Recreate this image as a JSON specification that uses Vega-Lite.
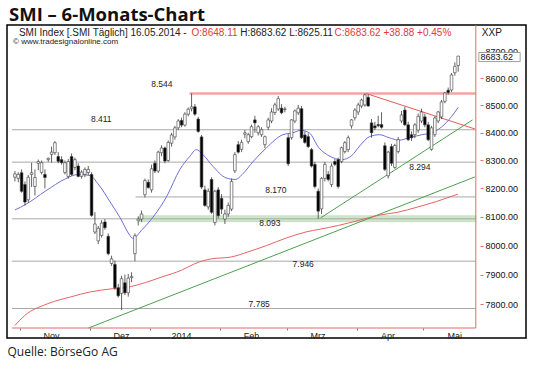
{
"$schema": "https://vega.github.io/schema/vega-lite/v6.json",
"width": 519, "height": 313,
"autosize": "none",
"padding": {"left": 7, "top": 25, "right": 14, "bottom": 32},
"background": "white",
"title": {"text": "SMI – 6-Monats-Chart", "anchor": "start", "frame": "group", "font": "Open Sans", "fontSize": 18.5, "fontWeight": "bold", "color": "#111111", "baseline": "alphabetic", "offset": 4, "dx": 2, "dy": 19},
"config": {"view": {"stroke": "#000000", "strokeWidth": 1.5}, "text": {"font": "Liberation Sans"}},
"datasets": {
"candles": [
{"d":"2013-10-30","t":0,"o":8240,"h":8262,"l":8225,"c":8252},
{"d":"2013-10-31","t":1,"o":8236,"h":8258,"l":8222,"c":8250},
{"d":"2013-11-01","t":2,"o":8256,"h":8268,"l":8185,"c":8190},
{"d":"2013-11-04","t":3,"o":8214,"h":8225,"l":8140,"c":8152},
{"d":"2013-11-05","t":4,"o":8160,"h":8248,"l":8150,"c":8240},
{"d":"2013-11-06","t":5,"o":8250,"h":8292,"l":8205,"c":8256},
{"d":"2013-11-07","t":6,"o":8207,"h":8268,"l":8175,"c":8239},
{"d":"2013-11-08","t":7,"o":8290,"h":8303,"l":8265,"c":8296},
{"d":"2013-11-11","t":8,"o":8257,"h":8300,"l":8250,"c":8292},
{"d":"2013-11-12","t":9,"o":8250,"h":8268,"l":8200,"c":8239},
{"d":"2013-11-13","t":10,"o":8303,"h":8310,"l":8295,"c":8308},
{"d":"2013-11-14","t":11,"o":8322,"h":8350,"l":8292,"c":8330},
{"d":"2013-11-15","t":12,"o":8328,"h":8370,"l":8320,"c":8364},
{"d":"2013-11-18","t":13,"o":8314,"h":8330,"l":8290,"c":8297},
{"d":"2013-11-19","t":14,"o":8303,"h":8315,"l":8285,"c":8292},
{"d":"2013-11-20","t":15,"o":8257,"h":8300,"l":8250,"c":8292},
{"d":"2013-11-21","t":16,"o":8243,"h":8305,"l":8235,"c":8296},
{"d":"2013-11-22","t":17,"o":8314,"h":8325,"l":8245,"c":8250},
{"d":"2013-11-25","t":18,"o":8275,"h":8310,"l":8265,"c":8303},
{"d":"2013-11-26","t":19,"o":8280,"h":8290,"l":8240,"c":8243},
{"d":"2013-11-27","t":20,"o":8243,"h":8265,"l":8235,"c":8258},
{"d":"2013-11-28","t":21,"o":8250,"h":8275,"l":8240,"c":8268},
{"d":"2013-11-29","t":22,"o":8257,"h":8280,"l":8248,"c":8268},
{"d":"2013-12-02","t":23,"o":8250,"h":8258,"l":8100,"c":8105},
{"d":"2013-12-03","t":24,"o":8047,"h":8116,"l":8040,"c":8075},
{"d":"2013-12-04","t":25,"o":8016,"h":8068,"l":8005,"c":8060},
{"d":"2013-12-05","t":26,"o":8035,"h":8088,"l":8028,"c":8078},
{"d":"2013-12-06","t":27,"o":8082,"h":8092,"l":8055,"c":8062},
{"d":"2013-12-09","t":28,"o":8032,"h":8042,"l":7966,"c":7972},
{"d":"2013-12-10","t":29,"o":7938,"h":7965,"l":7930,"c":7954},
{"d":"2013-12-11","t":30,"o":7935,"h":7948,"l":7848,"c":7855},
{"d":"2013-12-12","t":31,"o":7855,"h":7868,"l":7822,"c":7828},
{"d":"2013-12-13","t":32,"o":7836,"h":7896,"l":7780,"c":7886},
{"d":"2013-12-16","t":33,"o":7872,"h":7900,"l":7830,"c":7838},
{"d":"2013-12-17","t":34,"o":7838,"h":7902,"l":7825,"c":7888},
{"d":"2013-12-18","t":35,"o":7890,"h":7908,"l":7874,"c":7894},
{"d":"2013-12-19","t":36,"o":7972,"h":8042,"l":7946,"c":8034},
{"d":"2013-12-20","t":37,"o":8086,"h":8102,"l":8070,"c":8092},
{"d":"2013-12-23","t":38,"o":8092,"h":8122,"l":8082,"c":8110},
{"d":"2013-12-27","t":39,"o":8178,"h":8235,"l":8168,"c":8228},
{"d":"2013-12-30","t":40,"o":8222,"h":8232,"l":8200,"c":8203},
{"d":"2014-01-03","t":41,"o":8195,"h":8285,"l":8185,"c":8270},
{"d":"2014-01-06","t":42,"o":8290,"h":8300,"l":8255,"c":8262},
{"d":"2014-01-07","t":43,"o":8262,"h":8335,"l":8255,"c":8330},
{"d":"2014-01-08","t":44,"o":8328,"h":8355,"l":8315,"c":8345},
{"d":"2014-01-09","t":45,"o":8345,"h":8350,"l":8290,"c":8298},
{"d":"2014-01-10","t":46,"o":8300,"h":8372,"l":8295,"c":8365},
{"d":"2014-01-13","t":47,"o":8362,"h":8400,"l":8350,"c":8392},
{"d":"2014-01-14","t":48,"o":8385,"h":8425,"l":8375,"c":8418},
{"d":"2014-01-15","t":49,"o":8418,"h":8450,"l":8410,"c":8443},
{"d":"2014-01-16","t":50,"o":8445,"h":8455,"l":8420,"c":8428},
{"d":"2014-01-17","t":51,"o":8428,"h":8475,"l":8422,"c":8468},
{"d":"2014-01-20","t":52,"o":8468,"h":8492,"l":8460,"c":8486},
{"d":"2014-01-21","t":53,"o":8488,"h":8544,"l":8478,"c":8495},
{"d":"2014-01-22","t":54,"o":8495,"h":8505,"l":8462,"c":8468},
{"d":"2014-01-23","t":55,"o":8450,"h":8458,"l":8400,"c":8405},
{"d":"2014-01-24","t":56,"o":8385,"h":8392,"l":8198,"c":8205},
{"d":"2014-01-27","t":57,"o":8195,"h":8210,"l":8135,"c":8140},
{"d":"2014-01-28","t":58,"o":8135,"h":8200,"l":8125,"c":8190},
{"d":"2014-01-29","t":59,"o":8232,"h":8240,"l":8110,"c":8116},
{"d":"2014-01-30","t":60,"o":8080,"h":8195,"l":8070,"c":8190},
{"d":"2014-01-31","t":61,"o":8195,"h":8205,"l":8095,"c":8104},
{"d":"2014-02-03","t":62,"o":8165,"h":8180,"l":8110,"c":8127},
{"d":"2014-02-04","t":63,"o":8092,"h":8125,"l":8075,"c":8110},
{"d":"2014-02-05","t":64,"o":8110,"h":8150,"l":8100,"c":8140},
{"d":"2014-02-06","t":65,"o":8127,"h":8235,"l":8120,"c":8225},
{"d":"2014-02-07","t":66,"o":8263,"h":8330,"l":8255,"c":8321},
{"d":"2014-02-10","t":67,"o":8357,"h":8370,"l":8325,"c":8330},
{"d":"2014-02-11","t":68,"o":8340,"h":8375,"l":8330,"c":8365},
{"d":"2014-02-12","t":69,"o":8395,"h":8410,"l":8380,"c":8400},
{"d":"2014-02-13","t":70,"o":8368,"h":8400,"l":8360,"c":8393},
{"d":"2014-02-14","t":71,"o":8386,"h":8430,"l":8380,"c":8422},
{"d":"2014-02-17","t":72,"o":8447,"h":8462,"l":8400,"c":8436},
{"d":"2014-02-18","t":73,"o":8400,"h":8428,"l":8390,"c":8422},
{"d":"2014-02-19","t":74,"o":8393,"h":8420,"l":8385,"c":8411},
{"d":"2014-02-20","t":75,"o":8357,"h":8390,"l":8345,"c":8386},
{"d":"2014-02-21","t":76,"o":8420,"h":8455,"l":8410,"c":8447},
{"d":"2014-02-24","t":77,"o":8443,"h":8490,"l":8435,"c":8476},
{"d":"2014-02-25","t":78,"o":8474,"h":8510,"l":8465,"c":8502},
{"d":"2014-02-26","t":79,"o":8487,"h":8535,"l":8480,"c":8525},
{"d":"2014-02-27","t":80,"o":8490,"h":8505,"l":8468,"c":8473},
{"d":"2014-02-28","t":81,"o":8485,"h":8495,"l":8475,"c":8487},
{"d":"2014-03-03","t":82,"o":8382,"h":8395,"l":8280,"c":8288},
{"d":"2014-03-04","t":83,"o":8382,"h":8450,"l":8375,"c":8447},
{"d":"2014-03-05","t":84,"o":8443,"h":8485,"l":8435,"c":8480},
{"d":"2014-03-06","t":85,"o":8473,"h":8502,"l":8465,"c":8490},
{"d":"2014-03-07","t":86,"o":8488,"h":8498,"l":8378,"c":8382},
{"d":"2014-03-10","t":87,"o":8392,"h":8405,"l":8360,"c":8365},
{"d":"2014-03-11","t":88,"o":8386,"h":8398,"l":8345,"c":8350},
{"d":"2014-03-12","t":89,"o":8339,"h":8345,"l":8275,"c":8280},
{"d":"2014-03-13","t":90,"o":8286,"h":8295,"l":8200,"c":8207},
{"d":"2014-03-14","t":91,"o":8190,"h":8200,"l":8093,"c":8120},
{"d":"2014-03-17","t":92,"o":8128,"h":8240,"l":8110,"c":8236},
{"d":"2014-03-18","t":93,"o":8236,"h":8295,"l":8225,"c":8286},
{"d":"2014-03-19","t":94,"o":8250,"h":8262,"l":8225,"c":8232},
{"d":"2014-03-20","t":95,"o":8214,"h":8290,"l":8205,"c":8280},
{"d":"2014-03-21","t":96,"o":8296,"h":8305,"l":8280,"c":8286},
{"d":"2014-03-24","t":97,"o":8303,"h":8310,"l":8200,"c":8207},
{"d":"2014-03-25","t":98,"o":8296,"h":8350,"l":8290,"c":8346},
{"d":"2014-03-26","t":99,"o":8332,"h":8370,"l":8325,"c":8364},
{"d":"2014-03-27","t":100,"o":8339,"h":8390,"l":8330,"c":8382},
{"d":"2014-03-28","t":101,"o":8425,"h":8450,"l":8415,"c":8447},
{"d":"2014-03-31","t":102,"o":8455,"h":8490,"l":8445,"c":8483},
{"d":"2014-04-01","t":103,"o":8476,"h":8510,"l":8465,"c":8502},
{"d":"2014-04-02","t":104,"o":8498,"h":8525,"l":8490,"c":8520},
{"d":"2014-04-03","t":105,"o":8502,"h":8544,"l":8495,"c":8539},
{"d":"2014-04-04","t":106,"o":8530,"h":8540,"l":8495,"c":8498},
{"d":"2014-04-07","t":107,"o":8436,"h":8450,"l":8382,"c":8400},
{"d":"2014-04-08","t":108,"o":8425,"h":8440,"l":8410,"c":8418},
{"d":"2014-04-09","t":109,"o":8430,"h":8462,"l":8420,"c":8426},
{"d":"2014-04-10","t":110,"o":8430,"h":8475,"l":8415,"c":8420},
{"d":"2014-04-11","t":111,"o":8353,"h":8365,"l":8262,"c":8268},
{"d":"2014-04-14","t":112,"o":8245,"h":8335,"l":8236,"c":8330},
{"d":"2014-04-15","t":113,"o":8350,"h":8360,"l":8280,"c":8290},
{"d":"2014-04-16","t":114,"o":8275,"h":8360,"l":8270,"c":8354},
{"d":"2014-04-17","t":115,"o":8332,"h":8385,"l":8325,"c":8375},
{"d":"2014-04-22","t":116,"o":8443,"h":8480,"l":8435,"c":8465},
{"d":"2014-04-23","t":117,"o":8483,"h":8495,"l":8425,"c":8429},
{"d":"2014-04-24","t":118,"o":8429,"h":8440,"l":8370,"c":8375},
{"d":"2014-04-25","t":119,"o":8393,"h":8405,"l":8370,"c":8382},
{"d":"2014-04-28","t":120,"o":8393,"h":8435,"l":8380,"c":8429},
{"d":"2014-04-29","t":121,"o":8410,"h":8470,"l":8400,"c":8460},
{"d":"2014-04-30","t":122,"o":8443,"h":8488,"l":8435,"c":8476},
{"d":"2014-05-02","t":123,"o":8458,"h":8470,"l":8420,"c":8429},
{"d":"2014-05-05","t":124,"o":8429,"h":8440,"l":8370,"c":8375},
{"d":"2014-05-06","t":125,"o":8340,"h":8425,"l":8335,"c":8418},
{"d":"2014-05-07","t":126,"o":8393,"h":8460,"l":8385,"c":8454},
{"d":"2014-05-08","t":127,"o":8443,"h":8480,"l":8435,"c":8476},
{"d":"2014-05-09","t":128,"o":8458,"h":8520,"l":8450,"c":8513},
{"d":"2014-05-12","t":129,"o":8515,"h":8550,"l":8508,"c":8546},
{"d":"2014-05-13","t":130,"o":8556,"h":8566,"l":8540,"c":8548},
{"d":"2014-05-14","t":131,"o":8557,"h":8620,"l":8550,"c":8613},
{"d":"2014-05-15","t":132,"o":8621,"h":8660,"l":8610,"c":8645},
{"d":"2014-05-16","t":133,"o":8648.11,"h":8683.62,"l":8625.11,"c":8683.62}
],
"ma20": [
{"t":0,"v":8124},{"t":3.3,"v":8144},{"t":9.2,"v":8191},{"t":15.1,"v":8234},{"t":19,"v":8250},{"t":22.6,"v":8246},{"t":24.9,"v":8217},{"t":28.8,"v":8148},{"t":31.8,"v":8092},{"t":34.2,"v":8040},{"t":35.3,"v":8025},{"t":38.3,"v":8057},{"t":41.7,"v":8103},{"t":45.6,"v":8173},{"t":49.5,"v":8268},{"t":52.5,"v":8315},{"t":54.4,"v":8339},{"t":56.4,"v":8321},{"t":59.4,"v":8279},{"t":63.3,"v":8238},{"t":66.2,"v":8232},{"t":68.2,"v":8250},{"t":71.6,"v":8298},{"t":75.5,"v":8346},{"t":80.4,"v":8393},{"t":83.4,"v":8400},{"t":85.8,"v":8409},{"t":88.3,"v":8400},{"t":91.2,"v":8346},{"t":94.2,"v":8317},{"t":98.1,"v":8303},{"t":101,"v":8317},{"t":103.5,"v":8353},{"t":106.4,"v":8386},{"t":109.4,"v":8393},{"t":112.3,"v":8382},{"t":115.3,"v":8373},{"t":118.2,"v":8382},{"t":122.1,"v":8393},{"t":125.1,"v":8400},{"t":128,"v":8421},{"t":131,"v":8459},{"t":133,"v":8493}
],
"ma200": [
{"t":0,"v":7728},{"t":2.9,"v":7761},{"t":9.8,"v":7801},{"t":16.7,"v":7824},{"t":22.6,"v":7841},{"t":29.4,"v":7852},{"t":34.3,"v":7858},{"t":39.2,"v":7873},{"t":44.1,"v":7892},{"t":50,"v":7915},{"t":53.9,"v":7937},{"t":58.9,"v":7954},{"t":64.7,"v":7960},{"t":69.7,"v":7977},{"t":75.5,"v":8000},{"t":81.4,"v":8026},{"t":87.3,"v":8047},{"t":91.2,"v":8056},{"t":97.1,"v":8070},{"t":103,"v":8087},{"t":108.9,"v":8105},{"t":114.8,"v":8116},{"t":120.7,"v":8134},{"t":126.5,"v":8154},{"t":132.9,"v":8180}
],
"trend": [
{"line":"Aufwärtstrend Dez","t":22.07,"v":7719.5},{"line":"Aufwärtstrend Dez","t":138,"v":8241},
{"line":"Aufwärtstrend Mrz","t":91.7,"v":8096},{"line":"Aufwärtstrend Mrz","t":137.3,"v":8447},
{"line":"Abwärtstrend Apr","t":105.4,"v":8544},{"line":"Abwärtstrend Apr","t":138,"v":8414}
],
"levels": [
{"v":8544,"label":"8.544","t":52.4,"lt":44.1,"lv":8579},
{"v":8411,"label":"8.411","t":-0.88,"lt":25.9,"lv":8450},
{"v":8294,"label":"8.294","t":-0.88,"lt":121.5,"lv":8277},
{"v":8170,"label":"8.170","t":36.2,"lt":78.3,"lv":8193},
{"v":8093,"label":"8.093","t":-0.88,"lt":76.5,"lv":8078},
{"v":7946,"label":"7.946","t":-0.88,"lt":86.5,"lv":7935},
{"v":7785,"label":"7.785","t":-0.88,"lt":73.3,"lv":7801}
],
"zone": [{"t":37.4,"lo":8083,"hi":8104}],
"edges": [
{"edge":"unten","t":-0.88,"t2":138.3,"v":7719.5,"v2":7719.5},
{"edge":"rechts","t":138.3,"t2":138.3,"v":7719.5,"v2":8801.1}
],
"last": [{"txt":"8683.62","t":139.2,"t2":151.6,"lo":8663,"hi":8697,"tt":139.7,"v":8680}],
"notes": [
{"part":"name","txt":"SMI Index [.SMI  Täglich] 16.05.2014 -","t":1.2,"v":8772},
{"part":"open","txt":"O:8648.11","t":53.0,"v":8772},
{"part":"range","txt":"H:8683.62 L:8625.11","t":67.6,"v":8772},
{"part":"close","txt":"C:8683.62 +38.88 +0.45%","t":95.9,"v":8772},
{"part":"symbol","txt":"XXP","t":140.1,"v":8772}
],
"source": [{"txt":"© www.tradesignalonline.com","t":-0.55,"v":8737}]
},
"encoding": {
"x": {"field": "t", "type": "quantitative", "scale": {"domain": [-0.88, 151.85], "nice": false, "zero": false},
"axis": {"values": [1.5, 22.5, 40.5, 61.5, 81.5, 102.5, 122.5],
"labelExpr": "datum.value < 10 ? 'Nov' : datum.value < 30 ? 'Dez' : datum.value < 50 ? '2014' : datum.value < 70 ? 'Feb' : datum.value < 90 ? 'Mrz' : datum.value < 110 ? 'Apr' : 'Mai'",
"offset": -10, "domain": false, "grid": false, "tickSize": 2, "tickColor": "#777777", "labelOffset": 31, "labelPadding": 1,
"labelFont": "Liberation Sans", "labelFontSize": 9, "labelColor": "#222222", "labelOverlap": false, "labelFlush": false,
"title": "Quelle: BörseGo AG", "titleAnchor": "start", "titleAlign": "left", "titleFont": "Open Sans", "titleFontSize": 12, "titleFontWeight": "normal", "titleColor": "#222222", "titlePadding": 6}}
},
"layer": [
{"data": {"name": "zone"}, "mark": {"type": "rect", "fill": "#cfe6cb", "stroke": "#aed4aa", "strokeWidth": 0.5},
 "encoding": {"x2": {"datum": 138.3}, "y": {"field": "lo", "type": "quantitative", "scale": {"type": "log", "domain": [7686.2, 8801.1], "nice": false, "zero": false}}, "y2": {"field": "hi"}}},
{"data": {"name": "levels"}, "transform": [{"filter": "datum.v != 8544"}], "mark": {"type": "rule", "color": "#a8a8a8", "strokeWidth": 1},
 "encoding": {"x2": {"datum": 138.3}, "y": {"field": "v", "type": "quantitative", "scale": {"type": "log", "domain": [7686.2, 8801.1], "nice": false, "zero": false}}}},
{"data": {"name": "levels"}, "transform": [{"filter": "datum.v == 8544"}], "mark": {"type": "rule", "color": "#f2a5a5", "strokeWidth": 2.5},
 "encoding": {"x2": {"datum": 138.3}, "y": {"field": "v", "type": "quantitative", "scale": {"type": "log", "domain": [7686.2, 8801.1], "nice": false, "zero": false}}}},
{"data": {"name": "levels"}, "mark": {"type": "text", "fontSize": 8.5, "color": "#222222", "align": "center", "baseline": "middle", "font": "Liberation Sans"},
 "encoding": {"x": {"field": "lt", "type": "quantitative", "scale": {"domain": [-0.88, 151.85], "nice": false, "zero": false}}, "y": {"field": "lv", "type": "quantitative", "scale": {"type": "log", "domain": [7686.2, 8801.1], "nice": false, "zero": false}}, "text": {"field": "label"}}},
{"data": {"name": "trend"}, "transform": [{"filter": "datum.line != 'Abwärtstrend Apr'"}], "mark": {"type": "line", "color": "#4f9f4f", "strokeWidth": 1},
 "encoding": {"y": {"field": "v", "type": "quantitative", "scale": {"type": "log", "domain": [7686.2, 8801.1], "nice": false, "zero": false}}, "detail": {"field": "line"}}},
{"data": {"name": "trend"}, "transform": [{"filter": "datum.line == 'Abwärtstrend Apr'"}], "mark": {"type": "line", "color": "#e25c5c", "strokeWidth": 1},
 "encoding": {"y": {"field": "v", "type": "quantitative", "scale": {"type": "log", "domain": [7686.2, 8801.1], "nice": false, "zero": false}}}},
{"data": {"name": "ma200"}, "mark": {"type": "line", "color": "#e46464", "strokeWidth": 1, "interpolate": "monotone"},
 "encoding": {"y": {"field": "v", "type": "quantitative", "scale": {"type": "log", "domain": [7686.2, 8801.1], "nice": false, "zero": false}}}},
{"data": {"name": "ma20"}, "mark": {"type": "line", "color": "#6e6ed8", "strokeWidth": 1, "interpolate": "monotone"},
 "encoding": {"y": {"field": "v", "type": "quantitative", "scale": {"type": "log", "domain": [7686.2, 8801.1], "nice": false, "zero": false}}}},
{"data": {"name": "candles"}, "mark": {"type": "rule", "color": "#3a3a3a", "strokeWidth": 0.8},
 "encoding": {"y": {"field": "l", "type": "quantitative", "scale": {"type": "log", "domain": [7686.2, 8801.1], "nice": false, "zero": false},
  "axis": {"orient": "right", "offset": -46, "values": [7800, 7900, 8000, 8100, 8200, 8300, 8400, 8500, 8600, 8700], "format": ".2f", "domain": false, "grid": false, "ticks": true, "tickSize": 3, "tickColor": "#e07070", "labelPadding": 2, "labelFont": "Liberation Sans", "labelFontSize": 9, "labelColor": "#111111", "labelOverlap": false, "title": null}},
  "y2": {"field": "h"}}},
{"data": {"name": "candles"}, "mark": {"type": "bar", "size": 2.6, "stroke": "#3a3a3a", "strokeWidth": 0.6},
 "encoding": {"y": {"field": "o", "type": "quantitative", "scale": {"type": "log", "domain": [7686.2, 8801.1], "nice": false, "zero": false}}, "y2": {"field": "c"},
  "fill": {"condition": {"test": "datum.c < datum.o", "value": "#000000"}, "value": "#ffffff"}}},
{"data": {"name": "edges"}, "mark": {"type": "rule", "color": "#e06a6a", "strokeWidth": 1},
 "encoding": {"x2": {"field": "t2"}, "y": {"field": "v", "type": "quantitative", "scale": {"type": "log", "domain": [7686.2, 8801.1], "nice": false, "zero": false}}, "y2": {"field": "v2"}}},
{"data": {"name": "last"}, "mark": {"type": "rect", "fill": "#ffffff", "stroke": "#8a8a8a", "strokeWidth": 0.8},
 "encoding": {"x2": {"field": "t2"}, "y": {"field": "lo", "type": "quantitative", "scale": {"type": "log", "domain": [7686.2, 8801.1], "nice": false, "zero": false}}, "y2": {"field": "hi"}}},
{"data": {"name": "last"}, "mark": {"type": "text", "fontSize": 9, "color": "#111111", "align": "left", "baseline": "middle"},
 "encoding": {"x": {"field": "tt", "type": "quantitative", "scale": {"domain": [-0.88, 151.85], "nice": false, "zero": false}}, "y": {"field": "v", "type": "quantitative", "scale": {"type": "log", "domain": [7686.2, 8801.1], "nice": false, "zero": false}}, "text": {"field": "txt"}}},
{"data": {"name": "notes"}, "mark": {"type": "text", "fontSize": 10, "align": "left", "baseline": "middle"},
 "encoding": {"y": {"field": "v", "type": "quantitative", "scale": {"type": "log", "domain": [7686.2, 8801.1], "nice": false, "zero": false}}, "text": {"field": "txt"},
  "color": {"condition": {"test": "datum.part == 'open' || datum.part == 'close'", "value": "#e03a3a"}, "value": "#222222"}}},
{"data": {"name": "source"}, "mark": {"type": "text", "fontSize": 8, "align": "left", "baseline": "middle", "color": "#222222"},
 "encoding": {"y": {"field": "v", "type": "quantitative", "scale": {"type": "log", "domain": [7686.2, 8801.1], "nice": false, "zero": false}}, "text": {"field": "txt"}}}
]
}
